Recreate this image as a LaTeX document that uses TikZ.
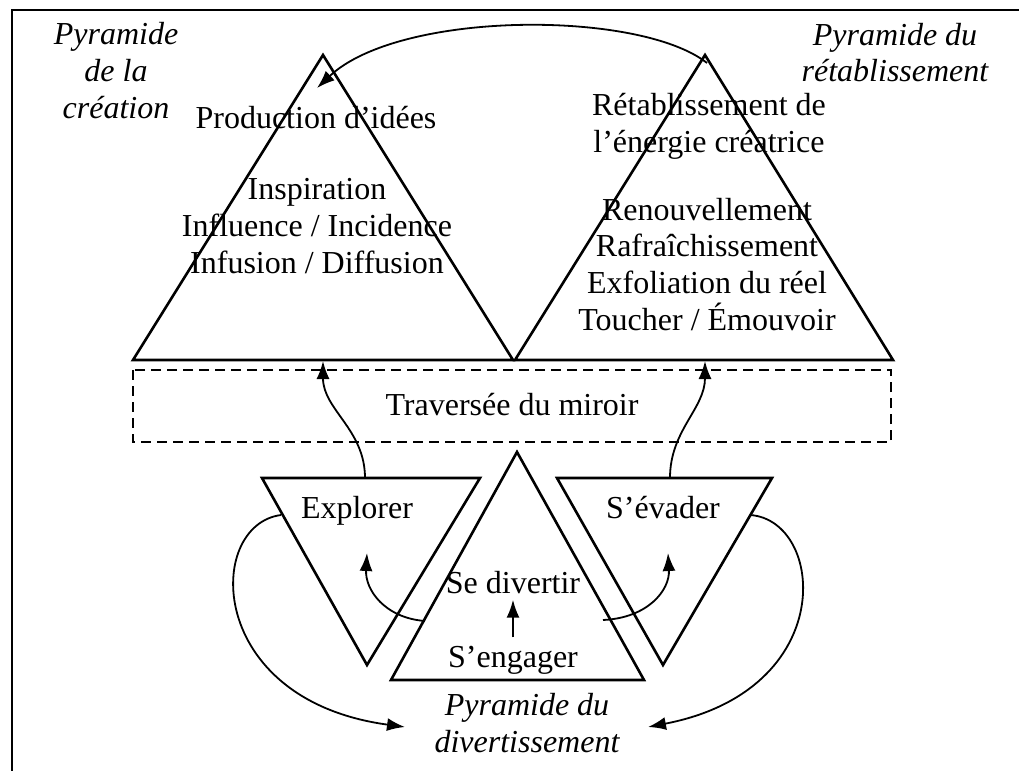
\documentclass[tikz,border=0pt]{standalone}
\usepackage{fontspec}
\setmainfont{Liberation Serif}
\usetikzlibrary{arrows.meta}

\tikzset{
  pyr/.style={draw, line width=1.3pt, line join=miter},
  mirror/.style={draw, line width=1.1pt, dash pattern=on 5pt off 3pt},
  lbl/.style={font=\fontsize{16}{18.3}\selectfont, align=center,
    inner sep=0pt, anchor=base},
  ilbl/.style={lbl, font=\fontsize{16}{18.3}\selectfont\itshape},
  flow/.style={line width=0.9pt, -{Latex[length=9pt,width=6.5pt]}},
}

\begin{document}
\begin{tikzpicture}[x=0.5pt,y=-0.5pt]
\useasboundingbox (0,0) rectangle (1019,771);

% frame (left and top only)
\draw[line width=1pt] (12,771) -- (12,10) -- (1019,10);

% pyramid corners
\coordinate (cA) at (323,55);  \coordinate (cL) at (133,360); \coordinate (cR) at (513,360);
\coordinate (rA) at (705,55);  \coordinate (rL) at (515,360); \coordinate (rR) at (893,360);
\coordinate (eL) at (262,478); \coordinate (eR) at (480,478); \coordinate (eB) at (367,665);
\coordinate (dA) at (517,452); \coordinate (dL) at (391,680); \coordinate (dR) at (644,680);
\coordinate (vL) at (557,478); \coordinate (vR) at (772,478); \coordinate (vB) at (663,665);

% pyramids
\draw[pyr] (cA) -- (cL) -- (cR) -- cycle;
\draw[pyr] (rA) -- (rL) -- (rR) -- cycle;
\draw[pyr] (eL) -- (eR) -- (eB) -- cycle;
\draw[pyr] (dA) -- (dL) -- (dR) -- cycle;
\draw[pyr] (vL) -- (vR) -- (vB) -- cycle;

% mirror band
\draw[mirror] (133,370) rectangle (891,442);
\node[lbl] (miroir) at (512,415) {Traversée du miroir};

% texts (base = last line)
\node[ilbl] (pcrea) at (116,118) {Pyramide\\de la\\création};
\node[ilbl] (preta) at (895,82) {Pyramide du\\rétablissement};
\node[ilbl] (pdiv) at (527,752) {Pyramide du\\divertissement};

\node[lbl] (prod) at (316,128) {Production d’idées};
\node[lbl] (insp) at (317,273) {Inspiration\\Influence / Incidence\\Infusion / Diffusion};
\node[lbl] (reta) at (709,152) {Rétablissement de\\l’énergie créatrice};
\node[lbl] (renou) at (707,330) {Renouvellement\\Rafraîchissement\\Exfoliation du réel\\Toucher / Émouvoir};

\node[lbl] (explorer) at (357,518) {Explorer};
\node[lbl] (evader) at (663,518) {S’évader};
\node[lbl] (divertir) at (513,593) {Se divertir};
\node[lbl] (engager) at (513,667) {S’engager};

% connector ends
\coordinate (retTop) at (707,63);   \coordinate (creTop) at (317,88);
\coordinate (expTop) at (365,478);  \coordinate (creBase) at (323,361);
\coordinate (evaTop) at (670,478);  \coordinate (retBase) at (705,361);
\coordinate (expOut) at (281,515);  \coordinate (divL) at (405,727);
\coordinate (evaOut) at (750,515);  \coordinate (divR) at (648,727);
\coordinate (divInL) at (425,621);  \coordinate (expIn) at (367,553);
\coordinate (divInR) at (603,620);  \coordinate (evaIn) at (668,553);

% arrows
\draw[flow] (retTop) .. controls (640,10) and (400,10) .. (creTop);
\draw[flow] (expTop) to[out=90,in=-90] (creBase);
\draw[flow] (evaTop) to[out=90,in=-90] (retBase);
\draw[flow] (expOut) .. controls (205,525) and (205,700) .. (divL);
\draw[flow] (evaOut) .. controls (825,520) and (840,690) .. (divR);
\draw[flow] (divInL) .. controls (385,618) and (365,590) .. (expIn);
\draw[flow] (divInR) .. controls (648,618) and (670,590) .. (evaIn);
\draw[flow, shorten >=3pt, shorten <=4pt] (engager) -- (divertir);
\end{tikzpicture}
\end{document}
